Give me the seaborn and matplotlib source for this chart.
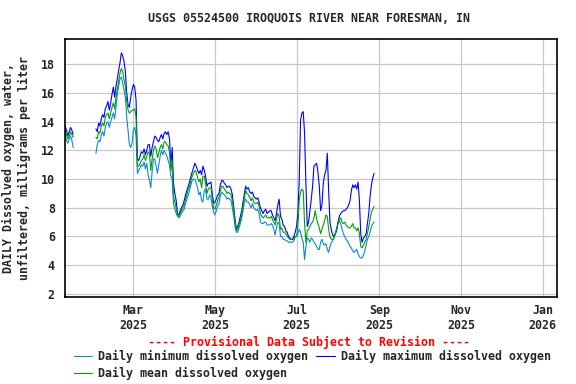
import numpy as np
import pandas as pd
import matplotlib
matplotlib.use("Agg")
import matplotlib.pyplot as plt
import matplotlib.dates as mdates
import seaborn as sns

# daily values, 2025-01-09 .. 2025-08-28 (no data Jan 16 - Jan 31)
dates = pd.date_range("2025-01-09", "2025-08-28", freq="D")
gap = [np.nan] * 16

daily_min = (
    [13.1, 12.7, 12.5, 12.8, 13.0, 12.7, 12.2] + gap +
    # Feb
    [11.8, 12.4, 12.7, 12.6, 13.1, 13.3, 13.0, 13.6, 13.9, 14.0, 13.6, 14.0, 14.3, 14.6,
     14.2, 15.0, 15.9, 16.5, 17.0, 17.1, 16.7, 16.2, 15.7, 14.3, 13.4, 12.4, 12.2, 12.5] +
    # Mar
    [13.4, 13.6, 13.0, 10.4, 10.6, 10.8, 11.0, 10.9, 11.2, 10.7, 11.1, 10.3, 9.9, 9.4, 10.5,
     11.4, 11.4, 10.9, 10.4, 11.0, 11.6, 12.0, 11.7, 12.0, 11.8, 11.6, 11.3, 11.0, 10.2, 10.0, 8.3] +
    # Apr
    [7.9, 7.6, 7.4, 7.3, 7.4, 7.6, 7.8, 7.9, 8.3, 8.6, 8.9, 9.2, 9.6, 9.9, 10.0,
     10.0, 9.7, 9.4, 8.9, 9.1, 8.5, 8.4, 9.2, 9.3, 8.6, 8.6, 8.9, 8.7, 8.1, 7.7] +
    # May
    [7.5, 7.8, 8.1, 8.3, 8.8, 9.1, 9.0, 8.9, 8.8, 8.6, 8.7, 8.6, 8.5, 8.0, 7.4, 6.7,
     6.3, 6.3, 6.6, 6.9, 7.3, 7.8, 8.4, 8.6, 8.4, 8.4, 8.2, 8.0, 8.3, 8.0, 7.9] +
    # Jun
    [7.8, 7.9, 7.6, 7.0, 6.9, 6.9, 7.0, 7.0, 6.8, 6.8, 6.8, 6.9, 6.8, 6.5, 6.1,
     6.6, 7.0, 6.9, 6.0, 6.0, 5.8, 5.8, 5.7, 5.7, 5.6, 5.6, 5.6, 5.6, 5.7, 6.0] +
    # Jul
    [6.0, 6.2, 6.5, 6.3, 5.9, 5.6, 4.4, 5.3, 5.9, 5.8, 5.6, 5.9, 5.8, 5.6, 5.5, 5.3,
     5.1, 5.1, 5.6, 5.8, 5.5, 5.4, 5.5, 5.1, 4.9, 5.3, 5.6, 5.7, 5.9, 6.2, 6.6] +
    # Aug
    [6.9, 7.1, 6.9, 6.5, 6.2, 6.0, 5.8, 5.7, 5.5, 5.3, 5.2, 5.0, 4.9, 5.0, 5.1, 4.8,
     4.6, 4.5, 4.5, 4.7, 5.0, 5.4, 5.8, 6.0, 6.3, 6.7, 6.9, 7.0]
)

daily_max = (
    [13.7, 13.4, 13.0, 13.3, 13.6, 13.4, 13.1] + gap +
    [13.5, 13.3, 13.9, 13.7, 14.2, 14.5, 14.3, 14.9, 15.1, 15.4, 14.8, 15.3, 15.9, 16.4,
     15.7, 16.5, 17.0, 17.6, 18.1, 18.8, 18.6, 18.2, 17.5, 16.0, 15.2, 15.0, 15.7, 16.2] +
    [16.6, 16.4, 15.5, 11.4, 11.3, 11.6, 11.9, 11.8, 12.1, 11.7, 12.0, 12.4, 12.4, 11.6, 12.2,
     12.6, 13.0, 12.9, 12.7, 12.6, 12.9, 13.1, 12.8, 13.2, 13.3, 13.1, 13.3, 12.8, 11.0, 12.2, 9.7] +
    [9.0, 8.5, 7.6, 7.5, 7.8, 8.0, 8.2, 8.5, 8.9, 9.2, 9.5, 9.8, 10.2, 10.5, 10.8,
     11.1, 10.9, 10.6, 10.4, 10.6, 10.3, 10.9, 10.6, 10.2, 9.5, 9.7, 9.7, 9.8, 9.0, 8.3] +
    [8.4, 8.6, 8.9, 9.0, 9.6, 9.9, 9.9, 9.7, 9.6, 9.4, 9.5, 9.5, 9.3, 8.9, 8.1, 7.2,
     6.5, 6.7, 7.0, 7.4, 7.8, 8.4, 9.0, 9.5, 9.3, 9.4, 9.1, 9.0, 9.1, 8.8, 8.7] +
    [8.6, 8.7, 8.4, 8.0, 7.8, 7.6, 7.8, 7.9, 7.6, 7.7, 7.8, 7.8, 7.5, 7.3, 7.1,
     7.6, 8.2, 8.6, 7.4, 7.2, 6.8, 6.7, 6.4, 6.3, 6.0, 5.9, 5.8, 5.8, 6.0, 6.3] +
    [6.7, 7.6, 9.9, 14.1, 14.6, 14.7, 13.2, 9.7, 6.7, 7.0, 7.8, 8.6, 9.5, 10.9, 11.0, 11.1,
     10.5, 9.5, 7.8, 8.2, 9.7, 10.3, 10.6, 11.8, 9.2, 7.0, 6.5, 6.1, 6.0, 6.2, 6.4] +
    [7.0, 7.4, 7.6, 7.7, 7.8, 7.8, 7.9, 8.0, 8.2, 8.5, 9.2, 9.6, 9.4, 9.6, 9.3, 9.8,
     8.5, 6.2, 5.6, 5.9, 6.0, 6.2, 6.9, 7.6, 8.8, 9.6, 10.1, 10.4]
)

daily_mean = (
    [13.4, 13.1, 12.8, 13.0, 13.3, 13.1, 12.9] + gap +
    [12.9, 12.8, 13.3, 13.2, 13.7, 13.9, 13.7, 14.3, 14.5, 14.6, 14.2, 14.6, 15.0, 15.3,
     14.9, 15.7, 16.3, 16.8, 17.4, 17.7, 17.5, 16.9, 16.5, 15.5, 14.8, 14.6, 14.7, 14.8] +
    [14.8, 14.9, 14.3, 10.9, 10.9, 11.1, 11.3, 11.4, 11.7, 11.3, 11.6, 11.9, 11.8, 10.6, 11.4,
     12.0, 12.3, 12.1, 11.5, 11.8, 12.2, 12.4, 12.1, 12.6, 12.6, 12.4, 12.3, 11.9, 10.6, 11.2, 8.8] +
    [8.4, 8.0, 7.5, 7.4, 7.6, 7.8, 8.0, 8.2, 8.6, 8.9, 9.3, 9.5, 9.9, 10.2, 10.4,
     10.6, 10.5, 10.1, 9.8, 10.0, 9.4, 10.2, 10.2, 9.7, 9.0, 9.3, 9.4, 9.4, 8.6, 8.0] +
    [7.9, 8.2, 8.5, 8.7, 9.2, 9.5, 9.5, 9.3, 9.2, 9.0, 9.1, 9.0, 8.9, 8.5, 7.8, 7.0,
     6.4, 6.5, 6.8, 7.1, 7.5, 8.1, 8.7, 9.2, 9.0, 8.9, 8.7, 8.5, 8.7, 8.4, 8.3] +
    [8.3, 8.4, 8.1, 7.6, 7.4, 7.3, 7.4, 7.5, 7.3, 7.3, 7.3, 7.4, 7.2, 7.0, 6.8,
     7.2, 7.6, 7.4, 6.5, 6.6, 6.3, 6.3, 6.2, 6.0, 5.9, 5.8, 5.8, 5.8, 5.8, 6.0] +
    [6.0, 6.7, 8.5, 9.1, 9.3, 9.2, 6.9, 5.6, 6.4, 6.5, 6.7, 6.9, 7.0, 7.3, 7.8, 7.2,
     6.9, 6.6, 6.2, 6.5, 6.8, 7.1, 7.5, 7.4, 6.5, 6.0, 5.8, 5.8, 5.9, 6.2, 6.5] +
    [6.9, 7.2, 7.3, 7.0, 6.9, 7.0, 6.8, 6.7, 6.6, 6.6, 6.7, 6.9, 6.6, 6.6, 6.4, 6.6,
     6.2, 5.3, 5.2, 5.4, 5.6, 5.8, 6.2, 6.7, 7.2, 7.7, 7.9, 8.1]
)

series_names = ["Daily minimum dissolved oxygen",
                "Daily maximum dissolved oxygen",
                "Daily mean dissolved oxygen"]
series_colors = ["#0a8ad0", "#0000ff", "#00a000"]

seg = np.where(dates < pd.Timestamp("2025-01-20"), 0, 1)
frames = []
for name, vals in zip(series_names, [daily_min, daily_max, daily_mean]):
    frames.append(pd.DataFrame({"date": dates, "value": vals, "series": name, "seg": seg}))
df = pd.concat(frames).dropna()

sns.set_style("white")
plt.rcParams["font.family"] = ["DejaVu Sans Mono"]
plt.rcParams["font.weight"] = "bold"
fs = 8.4

fig = plt.figure(figsize=(5.76, 3.84), dpi=100)
ax = fig.add_axes([0.112, 0.2253, 0.855, 0.6727])

sns.lineplot(data=df, x="date", y="value", hue="series", hue_order=series_names,
             palette=series_colors, units="seg", estimator=None, linewidth=0.8,
             ax=ax)

ax.set_xlim(pd.Timestamp("2025-01-08 12:00"), pd.Timestamp("2026-01-11 18:00"))
ax.set_ylim(1.75, 19.75)
ax.set_yticks(range(2, 19, 2))
ax.set_xticks(pd.to_datetime(["2025-03-01", "2025-05-01", "2025-07-01",
                              "2025-09-01", "2025-11-01", "2026-01-01"]))
ax.xaxis.set_major_formatter(mdates.DateFormatter("%b\n%Y"))
ax.grid(True, color="#c8c8c8", linewidth=0.9)
ax.set_axisbelow(True)
for s in ax.spines.values():
    s.set_color("black")
    s.set_linewidth(1.2)
ax.tick_params(axis="y", direction="out", length=4, width=1, labelsize=fs, pad=3)
ax.tick_params(axis="x", direction="out", length=0, labelsize=fs, pad=5)
for lab in ax.get_xticklabels() + ax.get_yticklabels():
    lab.set_fontweight("bold")
ax.set_xlabel("")
ax.set_ylabel("DAILY Dissolved oxygen, water,\nunfiltered, milligrams per liter",
              fontsize=fs, fontweight="bold", labelpad=7, linespacing=1.25)

fig.text(0.537, 0.953, "USGS 05524500 IROQUOIS RIVER NEAR FORESMAN, IN",
         ha="center", va="center", fontsize=fs, fontweight="bold")
fig.text(0.537, 0.108, "---- Provisional Data Subject to Revision ----",
         ha="center", va="center", fontsize=fs, fontweight="bold", color="red")

handles, labels = ax.get_legend_handles_labels()
ax.get_legend().remove()
order = [0, 2, 1]
fig.legend([handles[i] for i in order], [labels[i] for i in order],
           ncol=2, loc="upper left", bbox_to_anchor=(0.128, 0.088),
           frameon=False, handlelength=1.6, handletextpad=0.5,
           columnspacing=0.7, labelspacing=0.3, borderpad=0, borderaxespad=0,
           prop={"weight": "bold", "size": fs})

fig.savefig("out.png", dpi=100)
